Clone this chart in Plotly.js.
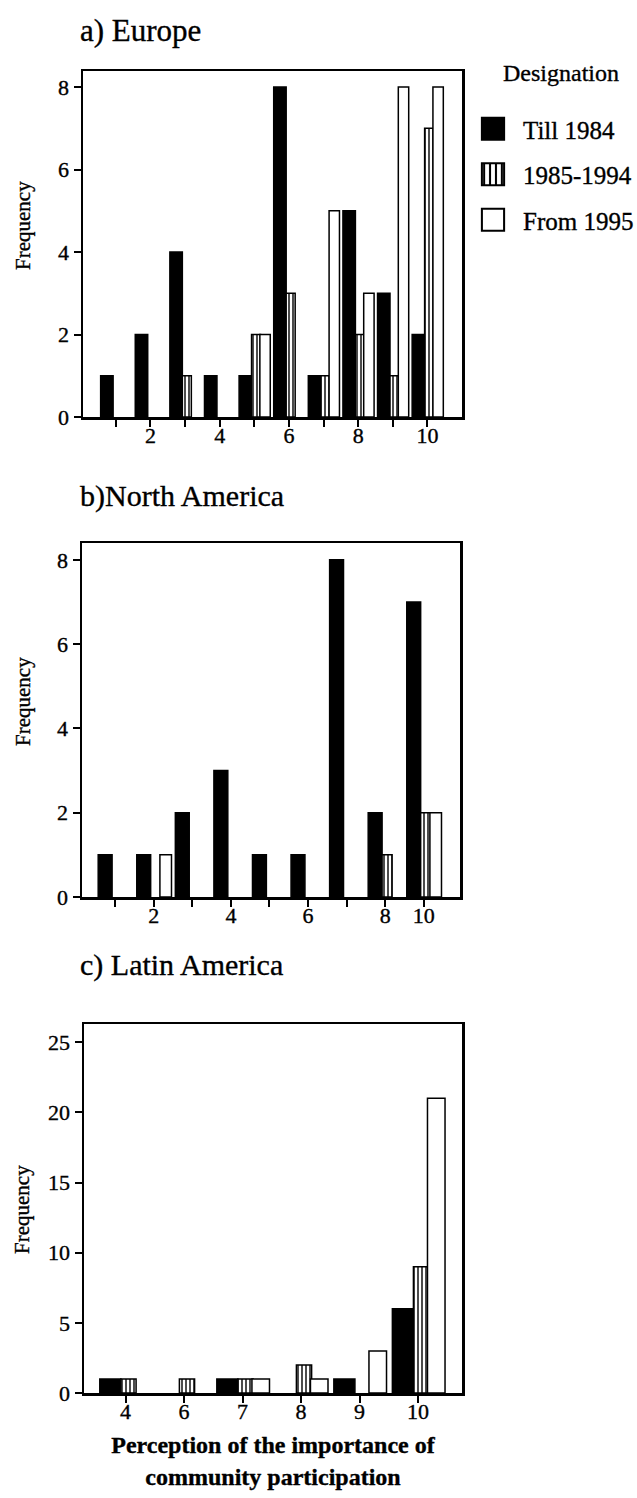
<!DOCTYPE html>
<html><head><meta charset="utf-8">
<script src="https://cdn.plot.ly/plotly-3.0.1.min.js"></script>
<style>
html,body{margin:0;padding:0;background:#fff}
#chart text{stroke:#000;stroke-width:0.35px}
</style>
</head><body>
<div id="chart" style="width:637px;height:1498px"></div>
<script>
// ---------- data ----------
const seriesNames = ['Till 1984', '1985-1994', 'From 1995'];

const europeCategories = [1, 2, 3, 4, 5, 6, 7, 8, 9, 10];
const europeTill1984 = [1, 2, 4, 1, 1, 8, 1, 5, 3, 2];
const europe1985to1994 = [0, 0, 1, 0, 2, 3, 1, 2, 1, 7];
const europeFrom1995 = [0, 0, 0, 0, 2, 0, 5, 3, 8, 8];
const europeTickText = ['', '2', '', '4', '', '6', '', '8', '', '10'];

const naCategories = ['1', '2', '3', '4', '5', '6', '7', '8', '10'];
const naTill1984 = [1, 1, 2, 3, 1, 1, 8, 2, 7];
const na1985to1994 = [0, 0, 0, 0, 0, 0, 0, 1, 2];
const naFrom1995 = [0, 1, 0, 0, 0, 0, 0, 0, 2];
const naTickText = ['', '2', '', '4', '', '6', '', '8', '10'];

const laCategories = ['4', '6', '7', '8', '9', '10'];
const laTill1984 = [1, 0, 1, 0, 1, 6];
const la1985to1994 = [1, 1, 1, 2, 0, 9];
const laFrom1995 = [0, 0, 1, 1, 3, 21];
const laTickText = laCategories;

const panelTitles = ['a) Europe', 'b)North America', 'c) Latin America'];
const yTitle = 'Frequency';
const xTitle = 'Perception of the importance of<br>community participation';
const legendTitle = 'Designation';

// ---------- styles ----------
const serif = '"Liberation Serif", "Times New Roman", "DejaVu Serif", serif';
const barStyles = [
  {marker: {color: '#000', line: {color: '#000', width: 1.5}}, offset: -0.44, width: 0.36},
  {marker: {color: '#fff', pattern: {shape: '|', fgcolor: '#000', bgcolor: '#fff', size: 4, solidity: 0.35, fillmode: 'replace'},
            line: {color: '#000', width: 1.5}}, offset: -0.08, width: 0.26},
  {marker: {color: '#fff', line: {color: '#000', width: 1.5}}, offset: 0.16, width: 0.3}
];

function panelTraces(xs, seriesList, xa, ya, showLegend) {
  return seriesList.map((vals, i) => ({
    type: 'bar',
    name: seriesNames[i],
    legendgroup: 'g' + i,
    showlegend: showLegend,
    x: xs,
    // a frequency of 0 draws no bar
    y: vals.map(v => (v === 0 ? null : v)),
    xaxis: xa,
    yaxis: ya,
    offset: barStyles[i].offset,
    width: barStyles[i].width,
    marker: barStyles[i].marker,
    hoverinfo: 'x+y+name'
  }));
}

const positions = arr => arr.map((_, i) => i + 1);

const traces = [].concat(
  panelTraces(europeCategories, [europeTill1984, europe1985to1994, europeFrom1995], 'x', 'y', true),
  panelTraces(positions(naCategories), [naTill1984, na1985to1994, naFrom1995], 'x2', 'y2', false),
  panelTraces(positions(laCategories), [laTill1984, la1985to1994, laFrom1995], 'x3', 'y3', false)
);

const W = 637, H = 1498;
const px = v => v / W;
const py = v => 1 - v / H;

const axisBase = {
  showline: true, linecolor: '#000', linewidth: 2.5, mirror: true,
  ticks: 'outside', ticklen: 7, tickwidth: 2, tickcolor: '#000',
  showgrid: false, zeroline: false, fixedrange: true,
  tickfont: {family: serif, size: 22, color: '#000'}
};
const xAxisBase = Object.assign({}, axisBase, {ticklabelposition: 'outside', ticklabelstandoff: -10});

function textNote(text, x, y, size, opts) {
  return Object.assign({text: text, xref: 'paper', yref: 'paper', x: px(x), y: py(y),
    xanchor: 'left', yanchor: 'middle', showarrow: false,
    font: {family: serif, size: size, color: '#000'}}, opts || {});
}
const freqNote = (x, y) => textNote(yTitle, x, y, 21, {xanchor: 'center', textangle: -90});

const layout = {
  width: W, height: H,
  margin: {l: 0, r: 0, t: 0, b: 0, autoexpand: false},
  paper_bgcolor: '#fff', plot_bgcolor: '#fff',
  barmode: 'overlay',
  font: {family: serif, color: '#000'},
  showlegend: true,
  legend: {
    x: px(463), y: py(106), xanchor: 'left', yanchor: 'top',
    itemwidth: 50, tracegroupgap: 10, bgcolor: 'rgba(0,0,0,0)',
    font: {family: serif, size: 25, color: '#000'}
  },
  xaxis: Object.assign({}, xAxisBase, {domain: [px(83), px(462)], range: [0.05, 11.0], anchor: 'y',
    tickmode: 'array', tickvals: europeCategories, ticktext: europeTickText}),
  yaxis: Object.assign({}, axisBase, {domain: [py(417), py(71)], range: [0, 8.39], anchor: 'x',
    tickmode: 'array', tickvals: [0, 2, 4, 6, 8]}),
  xaxis2: Object.assign({}, xAxisBase, {domain: [px(82), px(460)], range: [0.14, 9.94], anchor: 'y2',
    tickmode: 'array', tickvals: positions(naCategories), ticktext: naTickText}),
  yaxis2: Object.assign({}, axisBase, {domain: [py(897), py(543)], range: [0, 8.4], anchor: 'x2',
    tickmode: 'array', tickvals: [0, 2, 4, 6, 8]}),
  xaxis3: Object.assign({}, xAxisBase, {domain: [px(84), px(462)], range: [0.29, 6.75], anchor: 'y3',
    tickmode: 'array', tickvals: positions(laCategories), ticktext: laTickText,
    title: {text: xTitle, font: {family: serif, size: 24, color: '#000', weight: 700}, standoff: 14}}),
  yaxis3: Object.assign({}, axisBase, {domain: [py(1393), py(1024)], range: [0, 26.3], anchor: 'x3',
    tickmode: 'array', tickvals: [0, 5, 10, 15, 20, 25]}),
  annotations: [
    textNote(panelTitles[0], 78, 30, 31),
    textNote(panelTitles[1], 78, 496, 30),
    textNote(panelTitles[2], 78, 965, 30),
    textNote(legendTitle, 561, 73, 24, {xanchor: 'center'}),
    freqNote(23, 226),
    freqNote(23, 702),
    freqNote(22, 1210)
  ]
};

Plotly.newPlot('chart', traces, layout, {displayModeBar: false, staticPlot: true}).then(gd => {
  gd.querySelectorAll('.legend .legendpoints path').forEach(p => {
    const t = p.getAttribute('transform') || '';
    p.setAttribute('transform', t + ' scale(1.85)');
    p.style.strokeWidth = '1.1px';
  });
});
</script>
</body></html>
